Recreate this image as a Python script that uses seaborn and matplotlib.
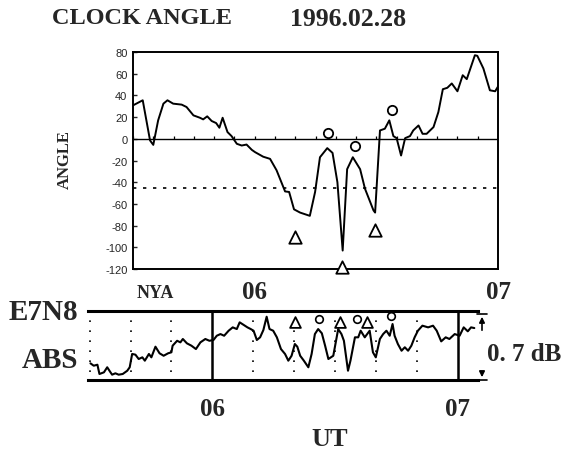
import pandas as pd
import seaborn as sns
import matplotlib.pyplot as plt
from matplotlib.lines import Line2D
from matplotlib.patches import FancyArrowPatch

# clock angle, time in minutes after 05:00 UT
angle_min = [30.0, 32.4, 34.2, 35.0, 36.2, 37.5, 38.5, 39.9, 42.0, 43.2, 44.9, 46.5,
             47.3, 48.3, 49.4, 50.5, 51.3, 52.1, 53.3, 54.3, 55.6, 56.8, 58.0, 59.3,
             60.1, 62.1, 63.8, 65.4, 67.5, 68.5, 69.7, 71.2, 73.6, 74.9, 76.1, 77.9,
             79.2, 80.4, 81.7, 82.8, 84.2, 86.0, 87.2, 89.3, 89.7, 90.9, 92.1, 93.2,
             94.2, 95.0, 96.1, 97.1, 98.3, 99.1, 100.4, 101.4, 102.4, 104.1, 105.3,
             106.4, 107.5, 108.6, 110.0, 111.3, 112.3, 114.3, 114.9, 116.4, 118.0,
             119.3, 120.1]
angle_deg = [30.8, 35.5, -1.5, -5.6, 17, 32.4, 35.5, 32.4, 31.5, 29.3, 21.6, 19.4,
             17.9, 20.7, 16.4, 14.5, 10.2, 19.4, 6.2, 2.5, -4.6, -6.2, -5.3, -10.2,
             -12.3, -16.5, -18.5, -29, -48.5, -49, -65, -68, -71, -49, -17, -8.6,
             -13, -40, -103, -28, -17, -28, -46, -66, -68, 7.7, 9.3, 17,
             2.5, 0.6, -15.4, 0.6, 2.5, 7.7, 12.3, 4.6, 4.6, 10.8, 24.7,
             45.7, 47, 51, 43.8, 58.6, 55, 77, 76.5, 64.8, 44.7,
             43.8, 48.8]
threshold = -45

tri_top_min = [70.0, 81.6, 89.7]
tri_top_deg = [-90.5, -118, -84]
circ_top_min = [78.0, 84.7, 93.8]
circ_top_deg = [5.3, -6.2, 26.2]

# riometer absorption E7N8 (dB above panel floor)
abs_min = [30.2, 31.0, 31.9, 32.4, 33.5, 34.3, 35.1, 35.5, 36.3, 37.1, 38.1, 39.2,
           39.8, 40.4, 41.2, 42.0, 42.9, 43.5, 44.5, 45.1, 46.1, 47.1, 48.1, 49.2,
           50.0, 50.3, 51.4, 52.2, 52.8, 53.8, 54.9, 56.0, 57.1, 58.3, 59.3, 60.3,
           61.1, 62.0, 62.9, 64.0, 65.0, 66.0, 66.7, 67.6, 68.6, 69.4, 70.1, 70.9,
           71.7, 72.5, 73.3, 74.0, 74.9, 75.8, 76.8, 77.8, 78.6, 79.4, 80.2, 80.8,
           81.5, 82.4, 83.5, 84.3, 85.1, 85.9, 86.8, 87.6, 88.4, 89.6, 90.8, 91.6,
           92.2, 93.2, 93.8, 94.9, 95.7, 96.3, 97.3, 98.5, 99.3, 100.0, 101.0, 101.8,
           102.6, 103.4, 104.1, 104.6, 105.4, 106.3, 107.1, 107.9, 108.7, 109.5,
           110.3, 111.4, 112.8, 114.0, 114.9, 116.0, 117.1, 118.0, 119.3, 120.5,
           121.5, 122.5, 123.3, 124.1]
abs_db = [0.169, 0.145, 0.155, 0.061, 0.078, 0.129, 0.078, 0.054, 0.068, 0.054, 0.061, 0.094,
          0.129, 0.264, 0.257, 0.213, 0.230, 0.196, 0.264, 0.230, 0.338, 0.271, 0.246, 0.271,
          0.281, 0.348, 0.398, 0.382, 0.416, 0.372, 0.348, 0.314, 0.382, 0.416, 0.398, 0.406,
          0.449, 0.466, 0.449, 0.500, 0.534, 0.517, 0.585, 0.561, 0.534, 0.517, 0.500, 0.406,
          0.433, 0.507, 0.642, 0.517, 0.500, 0.433, 0.314, 0.264, 0.196, 0.246, 0.365, 0.338,
          0.246, 0.196, 0.129, 0.264, 0.466, 0.517, 0.474, 0.348, 0.213, 0.246, 0.517, 0.466,
          0.398, 0.094, 0.196, 0.433, 0.433, 0.500, 0.433, 0.500, 0.281, 0.230, 0.416, 0.466,
          0.500, 0.449, 0.568, 0.449, 0.365, 0.297, 0.332, 0.297, 0.348, 0.433,
          0.500, 0.551, 0.534, 0.551, 0.500, 0.392, 0.433, 0.416, 0.466, 0.449,
          0.534, 0.494, 0.534, 0.527]

tri_abs_min = [80.2, 91.2, 97.9]
tri_abs_db = [0.588, 0.59, 0.59]
circ_abs_min = [86.2, 95.4, 103.8]
circ_abs_db = [0.62, 0.62, 0.652]

hour_ticks = [60, 120]
hour_labels = ['06', '07']
dotted_min = [30, 40, 50, 70, 80, 90, 100, 110]

sns.set_style('white')
plt.rcParams['font.family'] = ['Liberation Sans', 'DejaVu Sans']
plt.rcParams['axes.unicode_minus'] = False
serif = dict(family='Liberation Serif', weight='bold')

angle_df = pd.DataFrame({'t': angle_min, 'angle': angle_deg})
abs_df = pd.DataFrame({'t': abs_min, 'db': abs_db})

W, H = 563, 460
fig = plt.figure(figsize=(W / 100, H / 100), dpi=100)
ax1 = fig.add_axes([133 / W, 1 - 270 / H, 365 / W, 217 / H])
ax2 = fig.add_axes([88 / W, 1 - 381 / H, 390 / W, 69 / H])

# top: clock angle
sns.lineplot(data=angle_df, x='t', y='angle', ax=ax1, color='black', lw=1.4,
             estimator=None, sort=False)
ax1.axhline(0, color='black', lw=1.0)
ax1.vlines(range(30, 121, 5), 0, 3, color='black', lw=0.9)
ax1.axhline(threshold, color='black', lw=1.2, ls=(0, (2, 4)))
sns.scatterplot(x=tri_top_min, y=tri_top_deg, ax=ax1, marker='^', s=80,
                facecolor='white', edgecolor='black', linewidth=1.3, clip_on=False, zorder=5)
sns.scatterplot(x=circ_top_min, y=circ_top_deg, ax=ax1, marker='o', s=45,
                facecolor='white', edgecolor='black', linewidth=1.3, clip_on=False, zorder=5)
ax1.set_xlim(30, 120)
ax1.set_ylim(-120, 80)
ax1.set_yticks(range(-120, 81, 20))
ax1.set_xticks(hour_ticks)
ax1.set_xticklabels(hour_labels, fontsize=18, **serif)
ax1.tick_params(axis='x', direction='in', length=9, width=1.2, pad=8)
ax1.tick_params(axis='y', direction='in', length=3, width=1, labelsize=8, left=True, pad=4)
ax1.set_xlabel('')
ax1.set_ylabel('')
for s in ax1.spines.values():
    s.set_linewidth(1.4)
    s.set_color('black')

# bottom: absorption
sns.lineplot(data=abs_df, x='t', y='db', ax=ax2, color='black', lw=1.5,
             estimator=None, sort=False)
ax2.vlines(dotted_min, 0.08, 0.9, color='black', lw=1.2, ls=(0, (1, 5)))
ax2.vlines(hour_ticks, 0, 1, transform=ax2.get_xaxis_transform(), color='black', lw=1.8)
sns.scatterplot(x=tri_abs_min, y=tri_abs_db, ax=ax2, marker='^', s=60,
                facecolor='white', edgecolor='black', linewidth=1.3, zorder=5)
sns.scatterplot(x=circ_abs_min, y=circ_abs_db, ax=ax2, marker='o', s=30,
                facecolor='white', edgecolor='black', linewidth=1.2, zorder=5)
ax2.set_xlim(29.6, 125)
ax2.set_ylim(0, 0.7)
ax2.set_yticks([])
ax2.set_xticks(hour_ticks)
ax2.set_xticklabels(hour_labels, fontsize=18, **serif)
ax2.tick_params(axis='x', length=0, pad=12)
ax2.set_xlabel('')
ax2.set_ylabel('')
ax2.spines['left'].set_visible(False)
ax2.spines['right'].set_visible(False)
for k in ('top', 'bottom'):
    ax2.spines[k].set_linewidth(2.2)
    ax2.spines[k].set_color('black')

# texts
fig.text(52 / W, 1 - 18 / H, 'CLOCK ANGLE', fontsize=17.5, va='center', ha='left', **serif)
fig.text(290 / W, 1 - 20 / H, '1996.02.28', fontsize=18.5, va='center', ha='left', **serif)
fig.text(65 / W, 1 - 160 / H, 'ANGLE', fontsize=12, rotation=90, va='center', ha='center', **serif)
fig.text(155 / W, 1 - 294 / H, 'NYA', fontsize=13, va='center', ha='center', **serif)
fig.text(78 / W, 1 - 313 / H, 'E7N8', fontsize=21, va='center', ha='right', **serif)
fig.text(78 / W, 1 - 360 / H, 'ABS', fontsize=21, va='center', ha='right', **serif)
fig.text(330 / W, 1 - 440 / H, 'UT', fontsize=19, va='center', ha='center', **serif)
fig.text(487 / W, 1 - 355 / H, '0. 7 dB', fontsize=18, va='center', ha='left', **serif)

# scale arrows
ax_x = 482 / W
fig.add_artist(Line2D([ax_x - 5 / W, ax_x + 5 / W], [1 - 315 / H] * 2, color='black', lw=1.2))
fig.add_artist(Line2D([ax_x - 5 / W, ax_x + 5 / W], [1 - 381 / H] * 2, color='black', lw=1.2))
fig.add_artist(FancyArrowPatch((ax_x, 1 - 334 / H), (ax_x, 1 - 315 / H),
                               transform=fig.transFigure, arrowstyle='-|>',
                               mutation_scale=8, color='black', lw=1.2))
fig.add_artist(FancyArrowPatch((ax_x, 1 - 370 / H), (ax_x, 1 - 381 / H),
                               transform=fig.transFigure, arrowstyle='-|>',
                               mutation_scale=8, color='black', lw=1.2))

fig.savefig('out.png', dpi=100)
